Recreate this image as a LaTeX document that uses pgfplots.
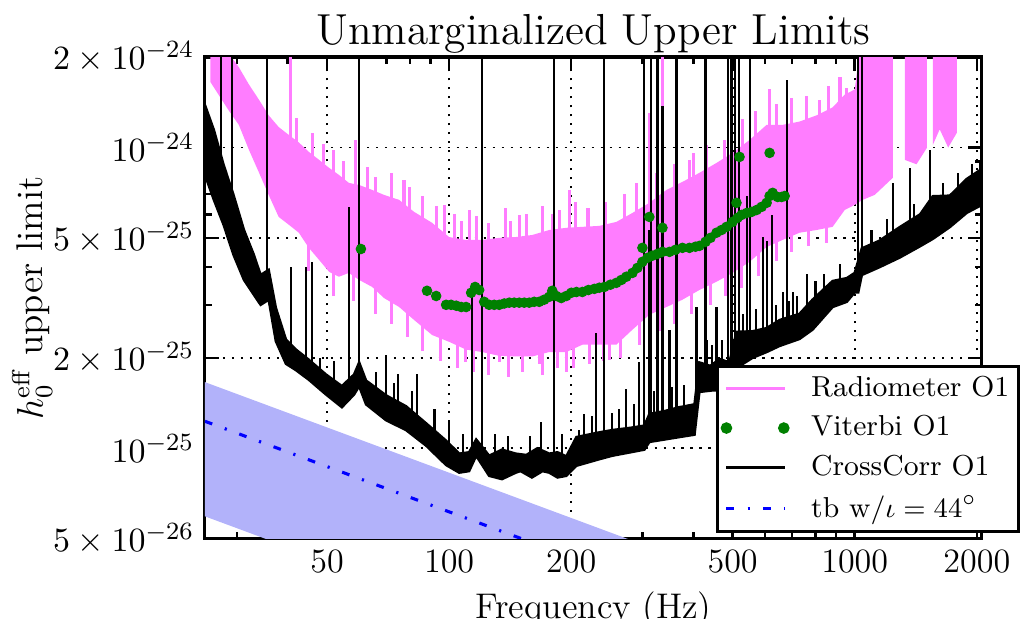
\documentclass[border=0pt]{standalone}
\usepackage{pgfplots}
\pgfplotsset{compat=1.18}
\usetikzlibrary{calc}
\definecolor{radpink}{RGB}{255,125,255}
\definecolor{vitgreen}{RGB}{0,128,0}
\definecolor{tbband}{RGB}{178,178,250}

\begin{document}
\begin{tikzpicture}
\begin{axis}[
    xmode=log, ymode=log,
    scale only axis,
    width=250.6pt, height=155.4pt,
    xmin=25, xmax=2059, ymin=0.5, ymax=20,
    xtick={50,100,200,500,1000,2000},
    xticklabels={50,100,200,500,1000,2000},
    minor xtick={30,40,60,70,80,90,300,400,600,700,800,900},
    ytick={0.5,1,2,5,10,20},
    yticklabels={$5\times10^{-26}$,$10^{-25}$,$2\times10^{-25}$,$5\times10^{-25}$,$10^{-24}$,$2\times10^{-24}$},
    minor ytick={0.6,0.7,0.8,0.9,3,4,6,7,8,9},
    grid=major,
    major grid style={black, line width=0.6pt, dash pattern=on 0.7pt off 2.2pt},
    axis line style={line width=1pt},
    tick style={black, line width=0.8pt},
    major tick length=4.5pt, minor tick length=2.2pt,
    tick label style={font=\fontsize{11}{13}\selectfont},
    title={Unmarginalized Upper Limits},
    title style={font=\fontsize{14}{16}\selectfont, yshift=-8.5pt},
    xlabel={Frequency (Hz)},
    xlabel style={font=\fontsize{11.5}{14}\selectfont, yshift=1pt},
    ylabel={$h_0^{\mathrm{eff}}$ upper limit},
    ylabel style={font=\fontsize{12}{14}\selectfont},
    ylabel shift=-6.5pt,
    legend cell align=left,
    legend style={at={(1.049,0.013)}, anchor=south east, draw=black, line width=0.9pt,
        font=\fontsize{9.3}{11}\selectfont, row sep=0.8pt, inner xsep=1pt, inner ysep=1pt,
        /tikz/every odd column/.append style={column sep=5pt}},
]
% Radiometer O1 (band)
\addplot[forget plot, draw=none, fill=radpink] coordinates {
 (25.8,25) (30.3,18.5) (32.1,16.2) (34.0,14.4) (35.9,12.8) (38.0,11.7) (40.3,11.0) (42.6,10.4)
 (45.1,9.67) (47.8,9.10) (50.6,8.56) (53.5,8.11) (56.6,7.63) (60,7.51) (64.6,7.23) (69.1,6.96)
 (75.3,6.70) (82.0,6.11) (90.8,5.62) (100,5.04) (110,4.93) (120.6,4.93) (132.9,5.01) (146,5.04)
 (160.3,5.12) (176.6,5.32) (194.5,5.41) (213,5.45) (234.6,5.49) (258.4,5.66) (283.1,6.06)
 (311.7,6.55) (343.4,7.23) (376.1,7.69) (414,8.24) (456.3,8.89) (499.7,9.60) (550.6,10.6)
 (606.5,11.9) (664.2,11.9) (731,12.2) (805.6,12.8) (882,13.6) (944.7,15.0) (1000,15.6)
 (1046,25) (1241,25)
 (1241,7.93) (1120,6.96) (1046,6.70) (1000,6.45) (944.7,6.20) (882,5.45) (805.6,5.32) (731,5.21)
 (664.2,4.93) (606.5,4.67) (550.6,4.17) (499.7,3.83) (456.3,3.58) (414,3.36) (376.1,3.12)
 (343.4,2.95) (311.7,2.78) (283.1,2.48) (258.4,2.21) (234.6,2.21) (213,2.21) (194.5,2.09)
 (176.6,2.09) (160.3,2.02) (146,2.02) (132.9,2.03) (120.6,2.09) (110,2.13) (100,2.26)
 (90.8,2.38) (82.0,2.67) (75.3,2.95) (69.1,3.16) (64.6,3.44) (60,3.63) (56.6,3.83) (53.5,3.72)
 (50.6,3.86) (47.8,4.23) (45.1,4.64) (42.6,5.21) (40.3,5.53) (38.0,5.88) (35.9,6.96) (34.0,8.24)
 (32.1,9.82) (30.3,11.9) (28.6,13.3) (27.0,15.0) (25.8,16.5)
};
\addplot[forget plot, draw=none, fill=radpink] coordinates {
 (1329,25) (1506,25) (1506,9.97) (1420,8.8) (1329,9.10)
};
\addplot[forget plot, draw=none, fill=radpink] coordinates {
 (1558,25) (1786,25) (1786,11.2) (1700,10.0) (1620,11.5) (1558,10.2)
};
% Radiometer spikes
\addplot[forget plot, radpink, line width=1pt, unbounded coords=jump] coordinates {
 (40.7,8) (40.7,25) (40.7,nan)
 (58.9,7) (58.9,10.6) (58.9,nan)
 (77.4,6) (77.4,7.81) (77.4,nan)
 (97.2,5) (97.2,6.45) (97.2,nan)
 (112,4.5) (112,6.20) (112,nan)
 (148.9,4.5) (148.9,5.97) (148.9,nan)
 (186.9,4.5) (186.9,6.20) (186.9,nan)
 (197.9,5) (197.9,7.23) (197.9,nan)
 (311.7,6) (311.7,13.0) (311.7,nan)
 (335.7,6) (335.7,25) (335.7,nan)
 (391.4,7) (391.4,9.10) (391.4,nan)
 (477.5,8) (477.5,10.6) (477.5,nan)
 (616.8,11) (616.8,15.6) (616.8,nan)
 (819.6,12) (819.6,14.4) (819.6,nan)
 (955.6,14) (955.6,15.8) (955.6,nan)
 (42,10.0) (42,12.5) (42,nan)
 (46,9.3) (46,11.2) (46,nan)
 (49,8.8) (49,10.3) (49,nan)
 (52,8.1) (52,9.8) (52,nan)
 (55,7.7) (55,9.0) (55,nan)
 (63,7.1) (63,8.6) (63,nan)
 (66,6.9) (66,8.0) (66,nan)
 (72,6.6) (72,8.2) (72,nan)
 (80,6.1) (80,7.4) (80,nan)
 (86,5.7) (86,6.9) (86,nan)
 (93,5.3) (93,6.4) (93,nan)
 (103,4.8) (103,6.0) (103,nan)
 (107,4.7) (107,5.7) (107,nan)
 (117,4.7) (117,5.9) (117,nan)
 (125,4.75) (125,5.6) (125,nan)
 (138,4.8) (138,6.3) (138,nan)
 (142,4.8) (142,5.7) (142,nan)
 (155,4.9) (155,6.0) (155,nan)
 (170,5.0) (170,6.4) (170,nan)
 (180,5.1) (180,6.0) (180,nan)
 (205,5.2) (205,6.6) (205,nan)
 (220,5.2) (220,6.3) (220,nan)
 (243,5.3) (243,6.6) (243,nan)
 (270,5.6) (270,7.0) (270,nan)
 (290,6.0) (290,7.6) (290,nan)
 (325,6.5) (325,8.2) (325,nan)
 (360,7.2) (360,8.8) (360,nan)
 (400,7.7) (400,9.6) (400,nan)
 (430,8.2) (430,10.2) (430,nan)
 (530,9.8) (530,12.4) (530,nan)
 (570,10.6) (570,13.2) (570,nan)
 (640,11.5) (640,14.0) (640,nan)
 (700,11.6) (700,14.6) (700,nan)
 (760,12.0) (760,14.8) (760,nan)
 (860,13.0) (860,16.0) (860,nan)
 (920,14.0) (920,17.2) (920,nan)
 (110,2.5) (110,1.94) (110,nan)
 (132.9,2.5) (132.9,1.94) (132.9,nan)
 (166.8,2.5) (166.8,1.90) (166.8,nan)
 (194.5,2.5) (194.5,1.79) (194.5,nan)
 (248.3,2.5) (248.3,1.97) (248.3,nan)
 (45,4.9) (45,3.9) (45,nan)
 (52,4.0) (52,3.2) (52,nan)
 (58,3.9) (58,3.1) (58,nan)
 (66,3.5) (66,2.8) (66,nan)
 (72,3.2) (72,2.6) (72,nan)
 (79,2.9) (79,2.35) (79,nan)
 (86,2.6) (86,2.1) (86,nan)
 (95,2.4) (95,1.95) (95,nan)
 (105,2.3) (105,1.85) (105,nan)
 (115,2.2) (115,1.8) (115,nan)
 (125,2.15) (125,1.75) (125,nan)
 (140,2.1) (140,1.72) (140,nan)
 (152,2.1) (152,1.8) (152,nan)
 (170,2.15) (170,1.75) (170,nan)
 (185,2.2) (185,1.85) (185,nan)
 (203,2.25) (203,1.85) (203,nan)
 (222,2.3) (222,1.9) (222,nan)
 (240,2.3) (240,1.95) (240,nan)
 (265,2.4) (265,2.0) (265,nan)
 (295,2.7) (295,2.2) (295,nan)
 (330,3.0) (330,2.45) (330,nan)
 (360,3.2) (360,2.6) (360,nan)
 (395,3.4) (395,2.8) (395,nan)
 (440,3.7) (440,3.0) (440,nan)
 (480,3.9) (480,3.2) (480,nan)
 (525,4.2) (525,3.4) (525,nan)
 (580,4.6) (580,3.75) (580,nan)
 (640,5.0) (640,4.2) (640,nan)
 (700,5.3) (700,4.5) (700,nan)
 (770,5.5) (770,4.7) (770,nan)
 (850,5.6) (850,4.8)
};
% Viterbi O1
\addplot[forget plot, only marks, mark=*, mark size=1.5pt, color=vitgreen,
    mark options={draw=vitgreen, fill=vitgreen}] coordinates {
 (60.6,4.60) (88.2,3.34) (92.9,3.21)
 (98.3,3.00) (101.1,3.00) (104.1,2.98) (107.1,2.95) (110.1,2.95) (113.3,3.29) (115.9,3.44)
 (118.6,3.36) (122.0,3.07) (125.5,3.00) (129.2,3.00) (132.9,3.00) (136.7,3.03) (140.7,3.05)
 (144.7,3.05) (148.9,3.05) (153.2,3.05) (157.6,3.05) (162.1,3.07) (166.8,3.07) (171.6,3.12)
 (176.6,3.19) (179.6,3.34) (183.8,3.21) (189.0,3.16) (194.5,3.21) (200.1,3.29) (206,3.31)
 (213,3.31) (220.4,3.36) (228.1,3.39) (234.6,3.42) (241.4,3.44) (249.8,3.50) (258.4,3.55)
 (265.9,3.63) (273.5,3.72) (283.1,3.83) (291.2,3.98) (299.6,4.17) (308.3,4.30) (317.1,4.37)
 (326.3,4.43) (335.7,4.50) (349.4,4.50) (361.4,4.57) (376.1,4.64) (391.4,4.64) (405.0,4.68)
 (414,4.71) (428.7,4.86) (441.0,5.01) (456.3,5.21) (469.5,5.32) (483.1,5.45) (499.7,5.66)
 (514.2,5.84) (526.0,5.97) (541.3,6.06) (556.9,6.11) (572.9,6.20) (589.4,6.35) (606.5,6.55)
 (616.8,6.90) (627.5,7.07) (645.6,6.85) (660.5,6.85) (671.9,6.90)
 (299.6,4.64) (311.7,5.88) (335.7,5.41) (511,6.55) (520.0,9.31) (616.8,9.60)
};
% CrossCorr O1 (band)
\addplot[forget plot, draw=black, line width=0.8pt, fill=black] coordinates {
 (25,13.85) (26.3,11.44) (27.8,8.75) (29.4,6.96) (31.2,5.32) (33.0,4.40) (34.3,3.77) (35.9,3.92)
 (37.4,2.93) (39.6,2.30) (41.9,2.13) (45.1,1.97) (49.7,1.76) (54.4,1.61) (58.3,1.76) (60,1.93)
 (62.4,1.68) (69.9,1.50) (78.3,1.38) (87.8,1.21) (98.3,1.06) (105.9,0.96) (112,0.97) (116.6,1.07)
 (125.5,0.945) (135,0.99) (146,0.96) (155,0.95) (165,1.0) (176.6,0.96) (185,0.97) (194.5,0.94)
 (206,1.09) (234.6,1.13) (252.6,1.15) (280,1.17) (303,1.19) (311.7,1.30) (340,1.33) (369.8,1.37)
 (402.7,1.40) (414,1.93) (440,1.88) (465,1.98) (491,1.93) (511,2.44) (560,2.45) (606.5,2.51)
 (653,2.67) (731,2.80) (787,3.12) (882,3.60) (956,3.68) (1000,3.83) (1041,4.62) (1150,4.9)
 (1292,5.44) (1450,6.0) (1558,6.89) (1716,6.92) (1890,7.87) (2059,8.5)
 (2059,6.45) (1890,6.07) (1716,5.44) (1558,4.97) (1450,4.7) (1292,4.31) (1150,4.0) (1041,3.77)
 (1020,3.30) (1000,3.30) (956,3.07) (882,2.95) (787,2.48) (731,2.31) (653,2.19) (606.5,2.09)
 (560,2.0) (511,1.85) (491,1.54) (450,1.56) (414,1.54) (402.7,1.11) (369.8,1.09) (340,1.07)
 (311.7,1.05) (303,0.99) (280,0.97) (252.6,0.945) (234.6,0.92) (206,0.875) (194.5,0.81)
 (185,0.80) (176.6,0.83) (170,0.84) (160,0.80) (150,0.84) (146,0.83) (135,0.79) (125.5,0.81)
 (116.6,0.945) (112,0.84) (105.9,0.83) (98.3,0.88) (87.8,1.02) (78.3,1.15) (69.9,1.24)
 (62.4,1.40) (60,1.61) (58.3,1.51) (54.4,1.37) (49.7,1.51) (45.1,1.69) (41.9,1.82) (39.6,1.91)
 (37.4,2.27) (35.9,3.12) (34.3,3.00) (33.0,3.24) (31.2,3.63) (29.4,4.40) (27.8,5.53) (26.3,6.70)
 (25,8.11)
};
% CrossCorr spikes
\addplot[forget plot, black, line width=0.7pt, unbounded coords=jump] coordinates {
 (27.4,8) (27.4,100) (27.4,nan)
 (29.1,6) (29.1,100) (29.1,nan)
 (35.5,3.5) (35.5,100) (35.5,nan)
 (40.7,2.1) (40.7,4.02) (40.7,nan)
 (44.4,1.85) (44.4,4.02) (44.4,nan)
 (45.9,1.8) (45.9,4.15) (45.9,nan)
 (56.6,1.5) (56.6,6.35) (56.6,nan)
 (60,1.7) (60,100) (60,nan)
 (69.9,1.4) (69.9,2.05) (69.9,nan)
 (74.8,1.3) (74.8,1.76) (74.8,nan)
 (83.4,1.2) (83.4,1.76) (83.4,nan)
 (100,0.95) (100,1.24) (100,nan)
 (114,0.9) (114,3.20) (114,nan)
 (120.6,0.95) (120.6,100) (120.6,nan)
 (168.7,0.9) (168.7,1.22) (168.7,nan)
 (181.6,0.9) (181.6,100) (181.6,nan)
 (209.4,0.95) (209.4,1.15) (209.4,nan)
 (230.7,1.0) (230.7,2.42) (230.7,nan)
 (241.4,1.0) (241.4,100) (241.4,nan)
 (252.6,1.05) (252.6,1.31) (252.6,nan)
 (273.5,1.05) (273.5,1.57) (273.5,nan)
 (294.4,1.1) (294.4,1.93) (294.4,nan)
 (303,1.1) (303,100) (303,nan)
 (311.7,1.15) (311.7,5.32) (311.7,nan)
 (315.3,1.15) (315.3,100) (315.3,nan)
 (326.3,1.2) (326.3,100) (326.3,nan)
 (335.7,1.2) (335.7,13.7) (335.7,nan)
 (349.3,1.2) (349.3,2.48) (349.3,nan)
 (363.5,1.25) (363.5,100) (363.5,nan)
 (407.3,1.3) (407.3,2.95) (407.3,nan)
 (428.7,1.7) (428.7,100) (428.7,nan)
 (431,1.7) (431,2.30) (431,nan)
 (456.3,1.7) (456.3,2.95) (456.3,nan)
 (485.9,1.7) (485.9,100) (485.9,nan)
 (497,1.7) (497,100) (497,nan)
 (505.6,1.7) (505.6,100) (505.6,nan)
 (517.3,2.0) (517.3,100) (517.3,nan)
 (541.3,2.1) (541.3,6.89) (541.3,nan)
 (550.6,2.1) (550.6,100) (550.6,nan)
 (592.8,2.2) (592.8,5.05) (592.8,nan)
 (606.5,2.2) (606.5,4.89) (606.5,nan)
 (624,2.3) (624,5.97) (624,nan)
 (664.2,2.4) (664.2,3.30) (664.2,nan)
 (679.5,2.4) (679.5,16.8) (679.5,nan)
 (703,2.5) (703,3.30) (703,nan)
 (761,2.6) (761,3.81) (761,nan)
 (1017,3.5) (1017,100) (1017,nan)
 (1041,3.8) (1041,100) (1041,nan)
 (1241,4.6) (1241,7.6) (1241,nan)
 (1367,5.0) (1367,8.55) (1367,nan)
 (1532,5.6) (1532,9.82) (1532,nan)
 (2036,7.0) (2036,9.1) (2036,nan)
 (48,1.7) (48,2.0) (48,nan)
 (52,1.65) (52,1.95) (52,nan)
 (66,1.55) (66,1.8) (66,nan)
 (73,1.45) (73,1.65) (73,nan)
 (81,1.33) (81,1.55) (81,nan)
 (92,1.15) (92,1.35) (92,nan)
 (108,0.95) (108,1.12) (108,nan)
 (130,0.95) (130,1.12) (130,nan)
 (140,0.95) (140,1.1) (140,nan)
 (158,0.95) (158,1.1) (158,nan)
 (190,0.95) (190,1.12) (190,nan)
 (215,1.1) (215,1.3) (215,nan)
 (225,1.1) (225,1.28) (225,nan)
 (262,1.15) (262,1.35) (262,nan)
 (285,1.17) (285,1.4) (285,nan)
 (320,1.3) (320,1.55) (320,nan)
 (355,1.35) (355,1.6) (355,nan)
 (380,1.38) (380,1.62) (380,nan)
 (445,1.9) (445,2.2) (445,nan)
 (470,1.95) (470,2.3) (470,nan)
 (530,2.45) (530,2.8) (530,nan)
 (570,2.45) (570,2.9) (570,nan)
 (640,2.6) (640,3.0) (640,nan)
 (690,2.72) (690,3.1) (690,nan)
 (720,2.78) (720,3.2) (720,nan)
 (800,3.15) (800,3.6) (800,nan)
 (840,3.35) (840,3.8) (840,nan)
 (920,3.6) (920,4.1) (920,nan)
 (1100,4.75) (1100,5.3) (1100,nan)
 (1200,5.1) (1200,5.8) (1200,nan)
 (1400,5.8) (1400,6.5) (1400,nan)
 (1650,6.9) (1650,7.6) (1650,nan)
 (1800,7.3) (1800,8.2) (1800,nan)
 (1950,8.0) (1950,8.8)
};
% tb band and line
\addplot[forget plot, draw=none, fill=tbband] coordinates {
 (25,1.66) (300,0.479) (300,0.1715) (25,0.594)
};
\addplot[forget plot, blue, line width=1pt, dash pattern=on 2.5pt off 4.3pt on 0.7pt off 4.3pt] coordinates {
 (25,1.23) (300,0.355)
};
\addlegendimage{legend image code/.code={\draw[radpink, line width=1pt] (2.5pt,0pt) -- (21.5pt,0pt);}}
\addlegendentry{Radiometer O1}
\addlegendimage{legend image code/.code={\fill[vitgreen] (2.5pt,0pt) circle (1.4pt); \fill[vitgreen] (21pt,0pt) circle (1.4pt);}}
\addlegendentry{Viterbi O1}
\addlegendimage{legend image code/.code={\draw[black, line width=1pt] (2.5pt,0pt) -- (21.5pt,0pt);}}
\addlegendentry{CrossCorr O1}
\addlegendimage{legend image code/.code={\draw[blue, line width=1pt, dash pattern=on 2.5pt off 4.3pt on 0.7pt off 4.3pt] (2.5pt,0pt) -- (21.5pt,0pt);}}
\addlegendentry{tb w/$\iota=44^\circ$}
\end{axis}
\pgfresetboundingbox
\path[use as bounding box] ([shift={(-66.1pt,-25.8pt)}]current axis.south west) rectangle ([shift={(264.5pt,173.8pt)}]current axis.south west);
\end{tikzpicture}
\end{document}
